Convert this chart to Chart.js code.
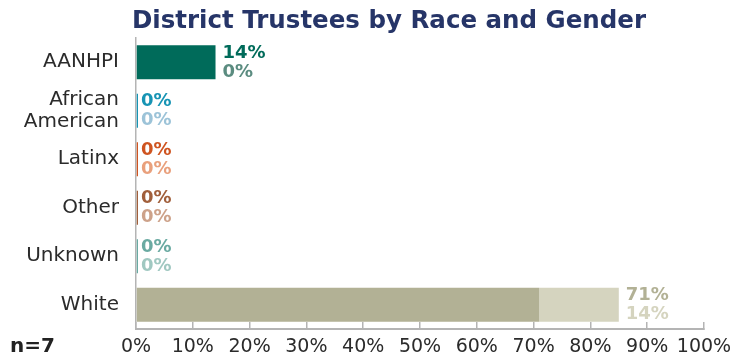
<!DOCTYPE html>
<html lang="en">
<head>
<meta charset="UTF-8">
<title>District Trustees by Race and Gender</title>
<script src="https://cdn.jsdelivr.net/npm/chart.js"></script>
<style>
  html, body { margin: 0; padding: 0; background: #fff; }
  .chart-container { width: 732px; height: 356px; }
</style>
</head>
<body>
<div class="chart-container">
  <canvas id="trustees-chart" width="732" height="356"></canvas>
</div>

<script>
// data
const categories = ['AANHPI', ['African', 'American'], 'Latinx', 'Other', 'Unknown', 'White'];
const seriesNames = ['Group 1', 'Group 2'];
const firstValues = [14, 0, 0, 0, 0, 71];
const secondValues = [0, 0, 0, 0, 0, 14];
const xTicks = [0, 10, 20, 30, 40, 50, 60, 70, 80, 90, 100];
const sampleNote = 'n=7';

// colours per category: dark for first series, light for second
const darkColors = ['#006b5a', '#1794b4', '#cf5420', '#a15f3b', '#6aaaa2', '#b2b195'];
const lightColors = ['#6a9a8e', '#9cc3d8', '#e9a07c', '#cda28a', '#a0c8c1', '#d5d4bf'];
const labelLightColors = ['#5b8c80', '#9cc3d8', '#e9a07c', '#cda28a', '#a0c8c1', '#d5d4bf'];

const FONT = "'DejaVu Sans', sans-serif";

// title, n= note and the two-line value labels
const extrasPlugin = {
  id: 'extras',
  afterDraw(chart) {
    const ctx = chart.ctx;
    const xScale = chart.scales.x;
    const yScale = chart.scales.y;
    ctx.save();

    ctx.fillStyle = '#263568';
    ctx.font = 'bold 24.5px ' + FONT;
    ctx.textAlign = 'center';
    ctx.textBaseline = 'middle';
    ctx.fillText('District Trustees by Race and Gender', 389, 22);

    ctx.fillStyle = '#222';
    ctx.font = 'bold 20px ' + FONT;
    ctx.textAlign = 'left';
    ctx.fillText(sampleNote, 10, 347);

    ctx.font = 'bold 18px ' + FONT;
    categories.forEach((cat, i) => {
      const total = firstValues[i] + secondValues[i];
      const x = xScale.getPixelForValue(total) + (total === 0 ? 5 : 7);
      const y = yScale.getPixelForValue(i);
      ctx.fillStyle = darkColors[i];
      ctx.fillText(firstValues[i] + '%', x, y - 9);
      ctx.fillStyle = labelLightColors[i];
      ctx.fillText(secondValues[i] + '%', x, y + 10);
    });
    ctx.restore();
  }
};

const ctxBar = document.getElementById('trustees-chart').getContext('2d');
new Chart(ctxBar, {
  type: 'bar',
  data: {
    labels: categories,
    datasets: [{
      label: seriesNames[0],
      data: firstValues,
      backgroundColor: darkColors,
      minBarLength: 2,
      categoryPercentage: 0.7,
      barPercentage: 1
    }, {
      label: seriesNames[1],
      data: secondValues,
      backgroundColor: lightColors,
      categoryPercentage: 0.7,
      barPercentage: 1
    }]
  },
  options: {
    indexAxis: 'y',
    responsive: false,
    animation: false,
    layout: { padding: { top: 38, left: 0, right: 0, bottom: 0 } },
    plugins: {
      legend: { display: false },
      title: { display: false },
      tooltip: { enabled: false }
    },
    scales: {
      x: {
        stacked: true,
        min: 0,
        max: 100,
        afterBuildTicks: (scale) => { scale.ticks = xTicks.map(v => ({ value: v })); },
        afterFit: (scale) => {
          scale.height = 27;
          scale.paddingLeft = 0;
          scale.paddingRight = 28;
        },
        grid: {
          drawOnChartArea: false,
          tickLength: -7,
          color: '#b4b4b4',
          lineWidth: 1.5
        },
        border: { color: '#b4b4b4', width: 2 },
        ticks: {
          padding: 14,
          color: '#2b2b2b',
          font: { family: FONT, size: 19 },
          maxRotation: 0,
          callback: (v) => v + '%'
        }
      },
      y: {
        stacked: true,
        afterFit: (scale) => { scale.width = 136; },
        grid: { display: false },
        border: { color: '#b4b4b4', width: 1.5 },
        ticks: {
          padding: 9,
          color: '#2b2b2b',
          font: { family: FONT, size: 20, lineHeight: 1.1 }
        }
      }
    }
  },
  plugins: [extrasPlugin]
});
</script>
</body>
</html>
